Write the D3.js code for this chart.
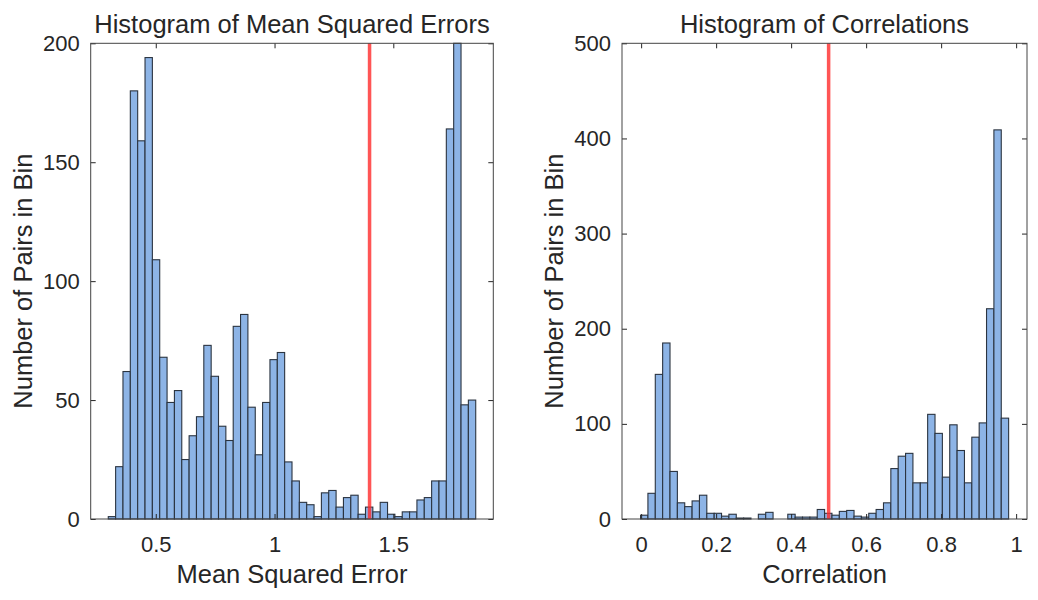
<!DOCTYPE html>
<html>
<head>
<meta charset="utf-8">
<script src="https://cdn.jsdelivr.net/npm/d3@7"></script>
<style>
  body { margin: 0; background: #fff; }
  text { font-family: "Liberation Sans", Arial, sans-serif; fill: #262626; }
</style>
</head>
<body>
<div id="chart"></div>
<script>
// counts per bin
var mseCounts = [1, 22, 62, 180, 159, 194, 109, 68, 49, 54,
                 25, 35, 43, 73, 60, 39, 33, 81, 86, 47,
                 27, 49, 67, 70, 24, 16, 7, 6, 1, 11,
                 12, 5, 9, 10, 2, 5, 3, 7, 2, 1,
                 3, 3, 8, 9, 16, 16, 164, 200, 48, 50];
var corrCounts = [4, 27, 152, 185, 50, 17, 13, 19, 25, 6,
                  6, 3, 5, 1, 1, 0, 5, 7, 0, 0,
                  5, 2, 2, 2, 10, 6, 4, 8, 9, 3,
                  2, 6, 10, 17, 53, 66, 69, 38, 38, 110,
                  90, 44, 99, 72, 38, 86, 101, 221, 409, 106];

// bin layout (uniform bins)
var mseBinStart = 0.300, mseBinWidth = 0.03094;
var corrBinStart = -0.0015, corrBinWidth = 0.01963;

// axis limits and ticks
var mseXDomain = [0.226, 1.921], mseYDomain = [0, 200];
var corrXDomain = [-0.051, 1.029], corrYDomain = [0, 500];
var mseXTicks = [0.5, 1, 1.5], mseYTicks = [0, 50, 100, 150, 200];
var corrXTicks = [0, 0.2, 0.4, 0.6, 0.8, 1], corrYTicks = [0, 100, 200, 300, 400, 500];

var mseThreshold = 1.4;
var corrThreshold = 0.5;

var svgWidth = 1038;
var svgHeight = 600;

var svg = d3.select("#chart")
  .append("svg")
  .attr("width", svgWidth)
  .attr("height", svgHeight);

function drawHist(opt) {
  var x = d3.scaleLinear().domain(opt.xDomain).range([opt.left, opt.right]);
  var y = d3.scaleLinear().domain(opt.yDomain).range([opt.bottom, opt.top]);

  var g = svg.append("g");

  // bars
  var bins = opt.counts.map(function(c, i) {
    return { x0: opt.binStart + i * opt.binWidth, x1: opt.binStart + (i + 1) * opt.binWidth, n: c };
  });

  g.selectAll(".bar")
    .data(bins)
    .enter()
    .append("rect")
    .attr("class", "bar")
    .attr("x", d => x(d.x0))
    .attr("y", d => y(d.n))
    .attr("width", d => x(d.x1) - x(d.x0))
    .attr("height", d => y(0) - y(d.n))
    .attr("fill", "#8db4e6")
    .attr("stroke", "#2b3440")
    .attr("stroke-width", 1.1);

  // threshold line
  g.append("line")
    .attr("x1", x(opt.threshold))
    .attr("x2", x(opt.threshold))
    .attr("y1", y(opt.yDomain[0]))
    .attr("y2", y(opt.yDomain[1]))
    .attr("stroke", "#ff2b2b")
    .attr("stroke-opacity", 0.8)
    .attr("stroke-width", 3.5);

  // axes, ticks pointing inward like matlab
  var bottomAxis = d3.axisBottom(x).tickValues(opt.xTicks).tickSize(-5).tickPadding(17).tickFormat(d3.format("~g"));
  var leftAxis = d3.axisLeft(y).tickValues(opt.yTicks).tickSize(-5).tickPadding(11).tickFormat(d3.format("~g"));
  var topAxis = d3.axisTop(x).tickValues(opt.xTicks).tickSize(-5).tickFormat("");
  var rightAxis = d3.axisRight(y).tickValues(opt.yTicks).tickSize(-5).tickFormat("");

  var axes = [
    g.append("g").attr("transform", `translate(0, ${opt.bottom})`).call(bottomAxis),
    g.append("g").attr("transform", `translate(${opt.left}, 0)`).call(leftAxis),
    g.append("g").attr("transform", `translate(0, ${opt.top})`).call(topAxis),
    g.append("g").attr("transform", `translate(${opt.right}, 0)`).call(rightAxis)
  ];
  axes.forEach(function(a) {
    a.select(".domain").remove();
    a.selectAll("line").attr("stroke", "#262626");
    a.selectAll("text").attr("font-size", "22px").attr("fill", "#262626")
      .attr("font-family", "'Liberation Sans', Arial, sans-serif");
  });

  // box
  g.append("rect")
    .attr("x", opt.left)
    .attr("y", opt.top)
    .attr("width", opt.right - opt.left)
    .attr("height", opt.bottom - opt.top)
    .attr("fill", "none")
    .attr("stroke", "#444")
    .attr("stroke-width", 1);

  var cx = (opt.left + opt.right) / 2;

  g.append("text")
    .attr("x", cx)
    .attr("y", 33)
    .attr("text-anchor", "middle")
    .attr("font-size", "25.5px")
    .text(opt.title);

  g.append("text")
    .attr("x", cx)
    .attr("y", 583)
    .attr("text-anchor", "middle")
    .attr("font-size", "25.5px")
    .text(opt.xLabel);

  g.append("text")
    .attr("transform", `translate(${opt.yLabelX}, ${(opt.top + opt.bottom) / 2}) rotate(-90)`)
    .attr("text-anchor", "middle")
    .attr("font-size", "25.5px")
    .text("Number of Pairs in Bin");
}

drawHist({
  counts: mseCounts, binStart: mseBinStart, binWidth: mseBinWidth,
  xDomain: mseXDomain, yDomain: mseYDomain, xTicks: mseXTicks, yTicks: mseYTicks,
  threshold: mseThreshold,
  left: 90.7, right: 493.3, top: 43.3, bottom: 519,
  title: "Histogram of Mean Squared Errors",
  xLabel: "Mean Squared Error",
  yLabelX: 31.5
});

drawHist({
  counts: corrCounts, binStart: corrBinStart, binWidth: corrBinWidth,
  xDomain: corrXDomain, yDomain: corrYDomain, xTicks: corrXTicks, yTicks: corrYTicks,
  threshold: corrThreshold,
  left: 622, right: 1027, top: 43.3, bottom: 519,
  title: "Histogram of Correlations",
  xLabel: "Correlation",
  yLabelX: 562.5
});
</script>
</body>
</html>
